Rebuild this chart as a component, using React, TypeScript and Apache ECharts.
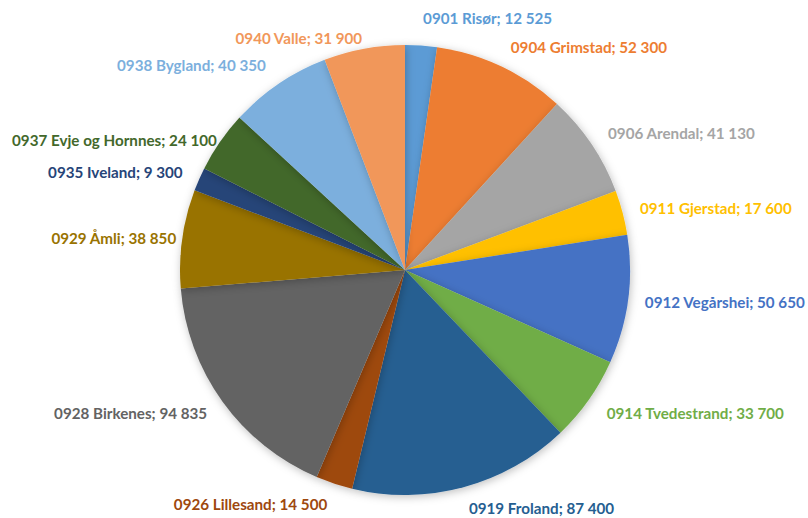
import React, { useEffect, useRef } from "react";
import * as echarts from "echarts";

const names = [
  "0901 Risør",
  "0904 Grimstad",
  "0906 Arendal",
  "0911 Gjerstad",
  "0912 Vegårshei",
  "0914 Tvedestrand",
  "0919 Froland",
  "0926 Lillesand",
  "0928 Birkenes",
  "0929 Åmli",
  "0935 Iveland",
  "0937 Evje og Hornnes",
  "0938 Bygland",
  "0940 Valle",
];
const values = [12525, 52300, 41130, 17600, 50650, 33700, 87400, 14500, 94835, 38850, 9300, 24100, 40350, 31900];

// styling (not data): slice colours and label distance from the pie edge
const colors = [
  "#5B9BD5", "#ED7D31", "#A5A5A5", "#FFC000", "#4472C4", "#70AD47", "#255E91",
  "#9E480E", "#636363", "#997300", "#264478", "#43682B", "#7CAFDD", "#F1975A",
];
const labelGaps = [28, 22, 20, 18, 17, 22, 21, 22, 19, 6, 18, 4, 23, 11];

const fmt = (v: number) => {
  const s = String(v);
  return s.replace(/\B(?=(\d{3})+(?!\d))/g, " ");
};

export default function App() {
  const ref = useRef<HTMLDivElement>(null);
  useEffect(() => {
    document.body.style.margin = "0";
    const chart = echarts.init(ref.current!, undefined, { renderer: "svg" });
    chart.setOption({
      animation: false,
      backgroundColor: "#ffffff",
      series: [
        {
          type: "pie",
          center: [405, 270],
          radius: 225,
          startAngle: 90,
          clockwise: true,
          avoidLabelOverlap: false,
          data: names.map((n, i) => ({
            name: n,
            value: values[i],
            itemStyle: { color: colors[i] },
            label: { color: colors[i] },
            labelLine: { show: false, length: labelGaps[i], length2: 0 },
          })),
          itemStyle: {
            borderWidth: 0,
            shadowBlur: 8,
            shadowColor: "rgba(0,0,0,0.25)",
            shadowOffsetX: 1,
            shadowOffsetY: 2,
          },
          label: {
            show: true,
            position: "outside",
            distanceToLabelLine: 0,
            fontFamily: "Lato",
            fontWeight: "bold",
            fontSize: 15.2,
            formatter: (p: any) => `${p.name}; ${fmt(p.value)}`,
          },
          labelLine: { show: false, length: 20, length2: 0 },
        },
      ],
    });
    return () => chart.dispose();
  }, []);
  return <div ref={ref} style={{ width: 808, height: 518 }} />;
}
